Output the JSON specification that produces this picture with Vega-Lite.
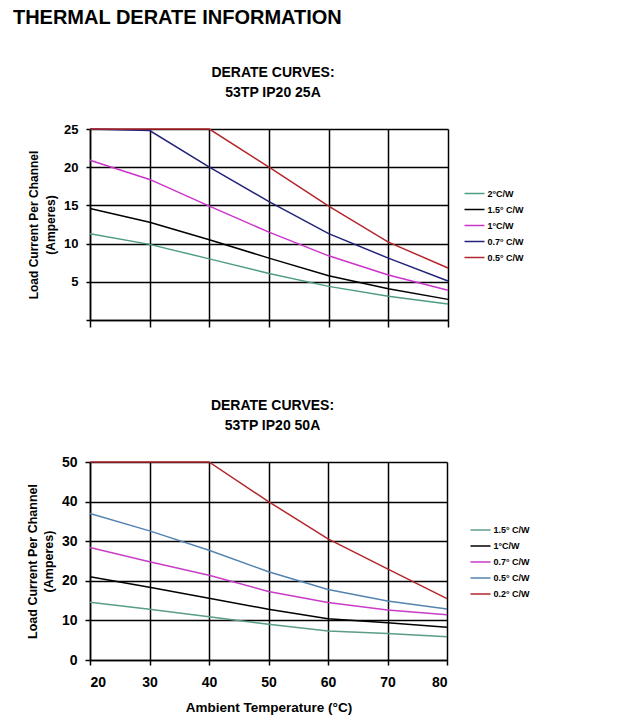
{
  "$schema": "https://vega.github.io/schema/vega-lite/v6.json",
  "background": "white",
  "padding": {"left": 12, "top": 8, "right": 5, "bottom": 5},
  "title": {"text": "THERMAL DERATE INFORMATION", "anchor": "start", "fontSize": 20, "fontWeight": "bold", "font": "Liberation Sans", "color": "#000", "dx": -13.5, "offset": 38},
  "config": {
    "font": "Liberation Sans",
    "view": {"stroke": null},
    "axis": {"gridColor": "#000", "gridOpacity": 1, "gridWidth": 1.5, "domainColor": "#000", "domainWidth": 1.5, "tickColor": "#000", "tickWidth": 1.5, "labelColor": "#000", "labelFontWeight": "bold", "titleColor": "#000", "titleFontWeight": "bold", "labelFont": "Liberation Sans", "titleFont": "Liberation Sans"},
    "legend": {"labelFont": "Liberation Sans", "labelFontWeight": "bold", "labelColor": "#000", "labelFontSize": 9}
  },
  "resolve": {"scale": {"color": "independent", "y": "independent", "x": "independent"}, "legend": {"color": "independent"}},
  "spacing": 70,
  "align": "none",
  "vconcat": [
    {
      "width": 358,
      "height": 191,
      "title": {"text": ["DERATE CURVES:", "53TP IP20 25A"], "fontSize": 14, "fontWeight": "bold", "lineHeight": 20, "offset": 23, "dx": 4, "color": "#000", "anchor": "middle"},
      "data": {"values": [
        {"series": "2°C/W", "temp": 20, "current": 11.3}, {"series": "2°C/W", "temp": 30, "current": 9.9}, {"series": "2°C/W", "temp": 40, "current": 8.0}, {"series": "2°C/W", "temp": 50, "current": 6.1}, {"series": "2°C/W", "temp": 60, "current": 4.4}, {"series": "2°C/W", "temp": 70, "current": 3.1}, {"series": "2°C/W", "temp": 80, "current": 2.1},
        {"series": "1.5° C/W", "temp": 20, "current": 14.6}, {"series": "1.5° C/W", "temp": 30, "current": 12.8}, {"series": "1.5° C/W", "temp": 40, "current": 10.5}, {"series": "1.5° C/W", "temp": 50, "current": 8.1}, {"series": "1.5° C/W", "temp": 60, "current": 5.8}, {"series": "1.5° C/W", "temp": 70, "current": 4.1}, {"series": "1.5° C/W", "temp": 80, "current": 2.7},
        {"series": "1°C/W", "temp": 20, "current": 20.9}, {"series": "1°C/W", "temp": 30, "current": 18.4}, {"series": "1°C/W", "temp": 40, "current": 14.9}, {"series": "1°C/W", "temp": 50, "current": 11.5}, {"series": "1°C/W", "temp": 60, "current": 8.4}, {"series": "1°C/W", "temp": 70, "current": 5.9}, {"series": "1°C/W", "temp": 80, "current": 3.9},
        {"series": "0.7° C/W", "temp": 20, "current": 25}, {"series": "0.7° C/W", "temp": 30, "current": 24.8}, {"series": "0.7° C/W", "temp": 40, "current": 20}, {"series": "0.7° C/W", "temp": 50, "current": 15.5}, {"series": "0.7° C/W", "temp": 60, "current": 11.3}, {"series": "0.7° C/W", "temp": 70, "current": 8.1}, {"series": "0.7° C/W", "temp": 80, "current": 5.1},
        {"series": "0.5° C/W", "temp": 20, "current": 25}, {"series": "0.5° C/W", "temp": 30, "current": 25}, {"series": "0.5° C/W", "temp": 40, "current": 25}, {"series": "0.5° C/W", "temp": 50, "current": 20}, {"series": "0.5° C/W", "temp": 60, "current": 14.9}, {"series": "0.5° C/W", "temp": 70, "current": 10.2}, {"series": "0.5° C/W", "temp": 80, "current": 6.8}
      ]},
      "mark": {"type": "line", "strokeWidth": 1.5},
      "encoding": {
        "x": {"field": "temp", "type": "quantitative", "scale": {"domain": [20, 80], "nice": false, "zero": false}, "axis": {"values": [20, 30, 40, 50, 60, 70, 80], "labels": false, "title": null, "tickSize": 7, "domain": true}},
        "y": {"field": "current", "type": "quantitative", "scale": {"domain": [0, 25], "nice": false}, "axis": {"values": [0, 5, 10, 15, 20, 25], "labelExpr": "datum.value == 0 ? '' : datum.label", "labelFontSize": 13, "labelPadding": 8, "tickSize": 4, "title": ["Load Current Per Channel", "(Amperes)"], "titleFontSize": 12, "titleLineHeight": 17, "titlePadding": 6}},
        "color": {"field": "series", "type": "nominal",
          "scale": {"domain": ["2°C/W", "1.5° C/W", "1°C/W", "0.7° C/W", "0.5° C/W"], "range": ["#4f9c86", "#000000", "#cc33cc", "#22227a", "#b3262a"]},
          "legend": {"title": null, "orient": "none", "legendX": 373.5, "legendY": 53.5, "symbolType": "stroke", "symbolSize": 400, "symbolStrokeWidth": 1.5, "labelOffset": 2, "rowPadding": 0, "padding": 0}}
      }
    },
    {
      "width": 357,
      "height": 198,
      "title": {"text": ["DERATE CURVES:", "53TP IP20 50A"], "fontSize": 14, "fontWeight": "bold", "lineHeight": 20, "offset": 22.5, "dx": 4, "color": "#000", "anchor": "middle"},
      "data": {"values": [
        {"series": "1.5° C/W", "temp": 20, "current": 14.6}, {"series": "1.5° C/W", "temp": 30, "current": 12.8}, {"series": "1.5° C/W", "temp": 40, "current": 10.9}, {"series": "1.5° C/W", "temp": 50, "current": 9.0}, {"series": "1.5° C/W", "temp": 60, "current": 7.3}, {"series": "1.5° C/W", "temp": 70, "current": 6.7}, {"series": "1.5° C/W", "temp": 80, "current": 5.9},
        {"series": "1°C/W", "temp": 20, "current": 21.0}, {"series": "1°C/W", "temp": 30, "current": 18.4}, {"series": "1°C/W", "temp": 40, "current": 15.6}, {"series": "1°C/W", "temp": 50, "current": 12.8}, {"series": "1°C/W", "temp": 60, "current": 10.4}, {"series": "1°C/W", "temp": 70, "current": 9.4}, {"series": "1°C/W", "temp": 80, "current": 8.3},
        {"series": "0.7° C/W", "temp": 20, "current": 28.4}, {"series": "0.7° C/W", "temp": 30, "current": 24.8}, {"series": "0.7° C/W", "temp": 40, "current": 21.4}, {"series": "0.7° C/W", "temp": 50, "current": 17.3}, {"series": "0.7° C/W", "temp": 60, "current": 14.5}, {"series": "0.7° C/W", "temp": 70, "current": 12.6}, {"series": "0.7° C/W", "temp": 80, "current": 11.4},
        {"series": "0.5° C/W", "temp": 20, "current": 37.0}, {"series": "0.5° C/W", "temp": 30, "current": 32.6}, {"series": "0.5° C/W", "temp": 40, "current": 27.7}, {"series": "0.5° C/W", "temp": 50, "current": 22.3}, {"series": "0.5° C/W", "temp": 60, "current": 17.8}, {"series": "0.5° C/W", "temp": 70, "current": 14.9}, {"series": "0.5° C/W", "temp": 80, "current": 12.9},
        {"series": "0.2° C/W", "temp": 20, "current": 50}, {"series": "0.2° C/W", "temp": 30, "current": 50}, {"series": "0.2° C/W", "temp": 40, "current": 50}, {"series": "0.2° C/W", "temp": 50, "current": 40.0}, {"series": "0.2° C/W", "temp": 60, "current": 30.6}, {"series": "0.2° C/W", "temp": 70, "current": 23.0}, {"series": "0.2° C/W", "temp": 80, "current": 15.5}
      ]},
      "mark": {"type": "line", "strokeWidth": 1.5},
      "encoding": {
        "x": {"field": "temp", "type": "quantitative", "scale": {"domain": [20, 80], "nice": false, "zero": false}, "axis": {"values": [20, 30, 40, 50, 60, 70, 80], "labelFontSize": 14, "tickSize": 5, "labelPadding": 10, "title": "Ambient Temperature (°C)", "titleFontSize": 13.5, "titlePadding": 11}},
        "y": {"field": "current", "type": "quantitative", "scale": {"domain": [0, 50], "nice": false}, "axis": {"values": [0, 10, 20, 30, 40, 50], "labelFontSize": 14, "labelPadding": 8, "tickSize": 5, "title": ["Load Current Per Channel", "(Amperes)"], "titleFontSize": 12.5, "titleLineHeight": 16, "titlePadding": 6}},
        "color": {"field": "series", "type": "nominal",
          "scale": {"domain": ["1.5° C/W", "1°C/W", "0.7° C/W", "0.5° C/W", "0.2° C/W"], "range": ["#5b9c8a", "#000000", "#c83cc8", "#5583b0", "#b3262a"]},
          "legend": {"title": null, "orient": "none", "legendX": 379.5, "legendY": 57, "symbolType": "stroke", "symbolSize": 400, "symbolStrokeWidth": 1.5, "labelOffset": 2, "rowPadding": 0, "padding": 0}}
      }
    }
  ]
}
